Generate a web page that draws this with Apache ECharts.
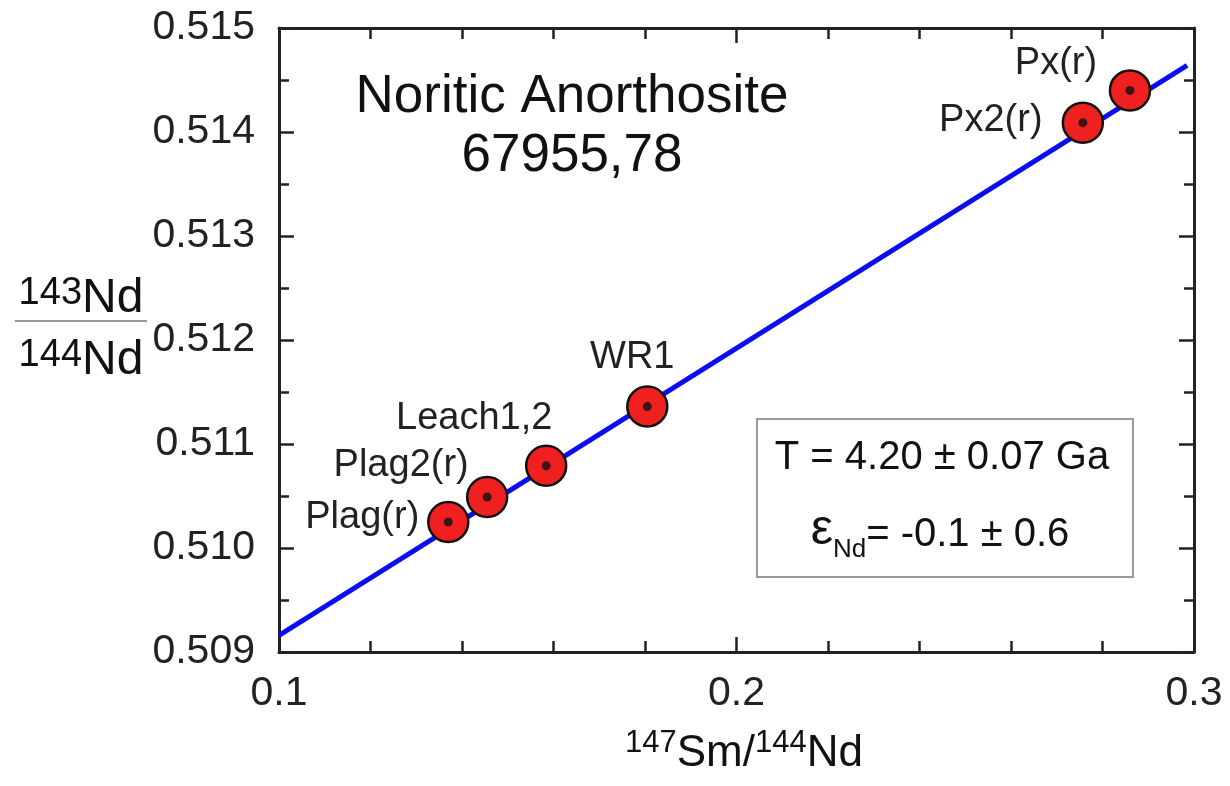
<!DOCTYPE html>
<html>
<head>
<meta charset="utf-8">
<script src="https://cdn.jsdelivr.net/npm/echarts@6/dist/echarts.min.js"></script>
<style>
  html, body { margin: 0; padding: 0; background: #fff; }
  #chart { width: 1230px; height: 786px; }
</style>
</head>
<body>
<div id="chart"></div>
<script>
const sampleNames = ['Plag(r)', 'Plag2(r)', 'Leach1,2', 'WR1', 'Px2(r)', 'Px(r)'];
const smNd = [0.1370, 0.1455, 0.1584, 0.1805, 0.2757, 0.2860];
const ndNd = [0.51025, 0.51049, 0.51079, 0.51136, 0.51409, 0.51440];

// isochron end points
const isoX = [0.1, 0.2985];
const isoY = [0.50916, 0.51464];

// axis ranges
const xTicks = [0.1, 0.3, 0.1];      // min, max, interval
const yTicks = [0.509, 0.515, 0.001];

// label placement for each sample (px, from marker centre)
const labelOffsets = [[-86, -4], [-86, -32], [-72, -47], [-15, -49], [-92, -2], [-74, -27]];

const FONT = 'Liberation Sans, Arial, sans-serif';
const INK = '#222';

const chart = echarts.init(document.getElementById('chart'));

const pts = smNd.map((x, i) => ({
  value: [x, ndNd[i]],
  name: sampleNames[i],
  label: { offset: labelOffsets[i] }
}));

const frameAxis = (extra) => Object.assign({
  axisLine: { show: true, onZero: false, lineStyle: { color: INK, width: 3 } },
  axisTick: { show: true, inside: true, length: 15, lineStyle: { color: INK, width: 2.5 } },
  splitLine: { show: false },
  minorSplitLine: { show: false }
}, extra);

const xBase = { type: 'value', min: xTicks[0], max: xTicks[1], interval: xTicks[2] };
const yBase = { type: 'value', min: yTicks[0], max: yTicks[1], interval: yTicks[2] };
const xMinor = { show: true, splitNumber: 5, length: 11, lineStyle: { color: INK, width: 2.5 } };
const yMinor = { show: true, splitNumber: 2, length: 10, lineStyle: { color: INK, width: 2.5 } };

chart.setOption({
  animation: false,
  grid: { left: 279, right: 36, top: 28, bottom: 134 },
  xAxis: [
    frameAxis(Object.assign({}, xBase, {
      position: 'bottom',
      minorTick: xMinor,
      axisLabel: { fontFamily: FONT, fontSize: 41, color: INK, margin: 21, formatter: v => v.toFixed(1) }
    })),
    frameAxis(Object.assign({}, xBase, { position: 'top', minorTick: xMinor, axisLabel: { show: false } }))
  ],
  yAxis: [
    frameAxis(Object.assign({}, yBase, {
      position: 'left',
      minorTick: yMinor,
      axisLabel: { fontFamily: FONT, fontSize: 41, color: INK, margin: 24, formatter: v => v.toFixed(3) }
    })),
    frameAxis(Object.assign({}, yBase, { position: 'right', minorTick: yMinor, axisLabel: { show: false } }))
  ],
  series: [
    {
      type: 'line',
      data: isoX.map((x, i) => [x, isoY[i]]),
      showSymbol: false,
      lineStyle: { color: '#0c0cf2', width: 5 },
      z: 2,
      silent: true
    },
    {
      type: 'scatter',
      data: pts,
      symbolSize: 40,
      itemStyle: { color: '#f02020', borderColor: '#111', borderWidth: 2.5, opacity: 1 },
      label: {
        show: true,
        position: 'inside',
        formatter: p => p.name,
        fontFamily: FONT,
        fontSize: 38,
        color: INK
      },
      z: 3
    },
    {
      // centre dots
      type: 'scatter',
      data: smNd.map((x, i) => [x, ndNd[i]]),
      symbolSize: 9,
      itemStyle: { color: '#111' },
      silent: true,
      z: 4
    }
  ],
  graphic: [
    { type: 'text', x: 572, y: 97, style: { text: 'Noritic Anorthosite', align: 'center', verticalAlign: 'middle', font: '53px ' + FONT, fill: '#111' } },
    { type: 'text', x: 572, y: 156, style: { text: '67955,78', align: 'center', verticalAlign: 'middle', font: '53px ' + FONT, fill: '#111' } },

    // result box
    { type: 'rect', shape: { x: 757, y: 419, width: 376, height: 158 }, style: { fill: '#fff', stroke: '#9a9a9a', lineWidth: 2 }, z: 10 },
    { type: 'text', x: 942, y: 458, z: 11, style: { text: 'T = 4.20 ± 0.07 Ga', align: 'center', verticalAlign: 'middle', font: '40px ' + FONT, fill: '#111' } },
    { type: 'text', x: 940, y: 530, z: 11, style: {
      text: '{e|ε}{sub|Nd}{t|= -0.1 ± 0.6}', align: 'center', verticalAlign: 'middle', fill: '#111',
      rich: {
        e: { fontFamily: FONT, fontSize: 50, fill: '#111', verticalAlign: 'bottom', lineHeight: 50 },
        sub: { fontFamily: FONT, fontSize: 26, fill: '#111', verticalAlign: 'bottom', lineHeight: 26, padding: [0, 0, -8, 0] },
        t: { fontFamily: FONT, fontSize: 40, fill: '#111', verticalAlign: 'bottom', lineHeight: 46 }
      }
    } },

    // y axis name as a fraction
    { type: 'text', x: 81, y: 299, style: {
      text: '{s|143}{n|Nd}', align: 'center', verticalAlign: 'middle',
      rich: {
        s: { fontFamily: FONT, fontSize: 38, fill: '#111', verticalAlign: 'top', lineHeight: 38 },
        n: { fontFamily: FONT, fontSize: 48, fill: '#111', verticalAlign: 'bottom', lineHeight: 48 }
      }
    } },
    { type: 'line', shape: { x1: 15, y1: 321, x2: 147, y2: 321 }, style: { stroke: '#777', lineWidth: 1.5 } },
    { type: 'text', x: 81, y: 361, style: {
      text: '{s|144}{n|Nd}', align: 'center', verticalAlign: 'middle',
      rich: {
        s: { fontFamily: FONT, fontSize: 38, fill: '#111', verticalAlign: 'top', lineHeight: 38 },
        n: { fontFamily: FONT, fontSize: 48, fill: '#111', verticalAlign: 'bottom', lineHeight: 48 }
      }
    } },

    // x axis name
    { type: 'text', x: 744, y: 752, style: {
      text: '{s|147}{n|Sm/}{s|144}{n|Nd}', align: 'center', verticalAlign: 'middle',
      rich: {
        s: { fontFamily: FONT, fontSize: 31, fill: '#111', verticalAlign: 'top', lineHeight: 31 },
        n: { fontFamily: FONT, fontSize: 44, fill: '#111', verticalAlign: 'bottom', lineHeight: 48 }
      }
    } }
  ]
});
</script>
</body>
</html>
